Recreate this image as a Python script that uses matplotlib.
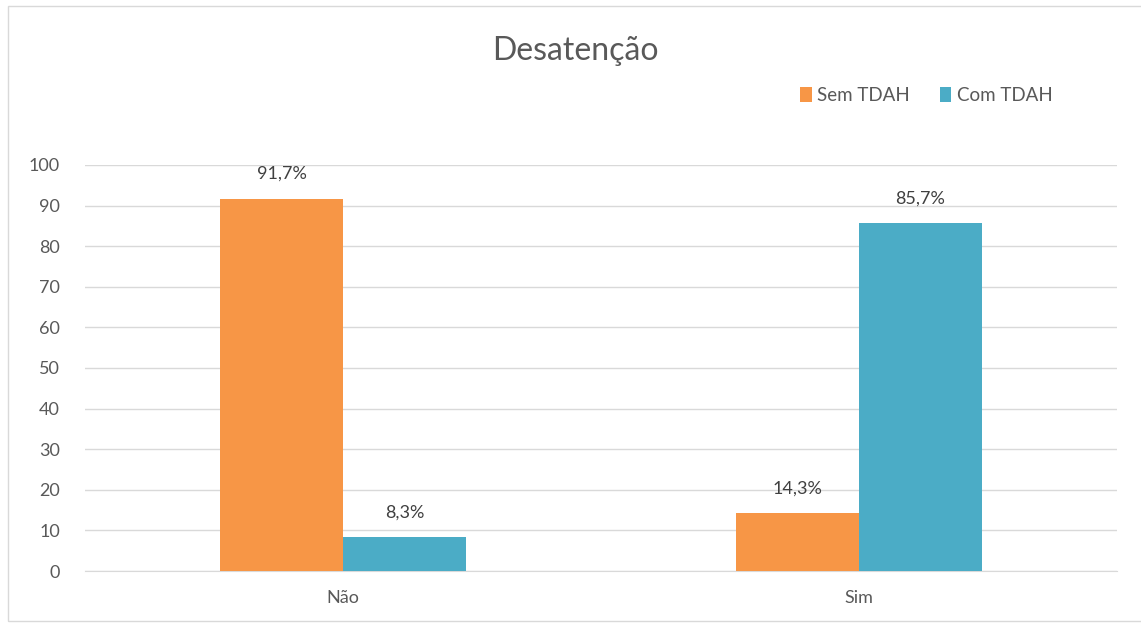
import matplotlib.pyplot as plt
import numpy as np
from matplotlib.patches import Rectangle

categories = ["Não", "Sim"]
sem_tdah = [91.7, 14.3]
com_tdah = [8.3, 85.7]
series_names = ["Sem TDAH", "Com TDAH"]
y_ticks = [0, 10, 20, 30, 40, 50, 60, 70, 80, 90, 100]

plt.rcParams['font.family'] = ['Lato', 'DejaVu Sans']

fig = plt.figure(figsize=(11.41, 6.27), dpi=100)
ax = fig.add_axes([0.0745, 0.0893, 0.9045, 0.6477])

# outer chart border
fig.patches.append(Rectangle((0.007, 0.01), 0.996, 0.98, transform=fig.transFigure,
                             fill=False, edgecolor='#d9d9d9', linewidth=1))

x = np.arange(len(categories))
w = 0.238
b1 = ax.bar(x - w / 2, sem_tdah, w, color='#F79646', label=series_names[0], zorder=3)
b2 = ax.bar(x + w / 2, com_tdah, w, color='#4BACC6', label=series_names[1], zorder=3)

for bars, vals in [(b1, sem_tdah), (b2, com_tdah)]:
    for rect, v in zip(bars, vals):
        ax.annotate(f"{v:.1f}%".replace('.', ','),
                    (rect.get_x() + rect.get_width() / 2, v),
                    xytext=(0, 12), textcoords='offset points',
                    ha='center', va='bottom', fontsize=13, color='#404040')

ax.set_xlim(-0.5, 1.5)
ax.set_ylim(0, 100)
ax.set_yticks(y_ticks)
ax.set_xticks(x)
ax.set_xticklabels(categories)
ax.tick_params(axis='both', length=0, labelsize=13, colors='#595959')
ax.tick_params(axis='y', pad=18)
ax.tick_params(axis='x', pad=14)
ax.grid(axis='y', color='#d9d9d9', linewidth=1, zorder=0)
for s in ['top', 'right', 'left']:
    ax.spines[s].set_visible(False)
ax.spines['bottom'].set_color('#d9d9d9')

fig.text(0.504, 0.918, "Desatenção", ha='center', va='center', fontsize=23, color='#595959')

fig.legend(loc='center', bbox_to_anchor=(0.812, 0.848), ncol=2, frameon=False,
           fontsize=13.5, labelcolor='#595959', handlelength=0.6, handleheight=0.9,
           handletextpad=0.3, columnspacing=1.6)

fig.savefig("out.png", dpi=100)
